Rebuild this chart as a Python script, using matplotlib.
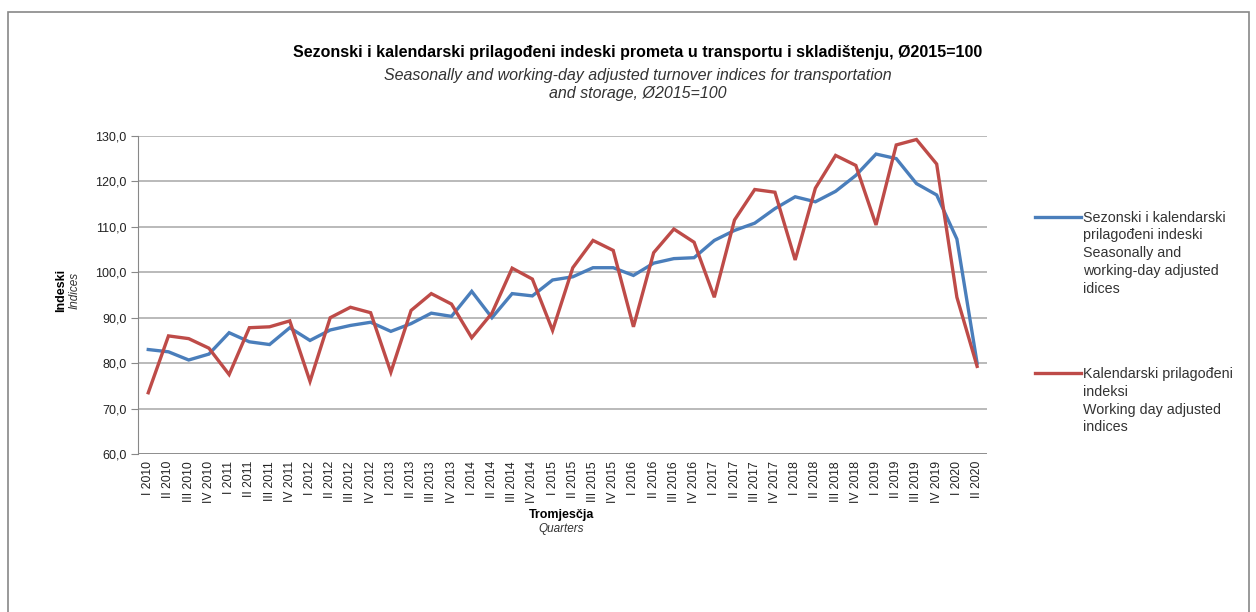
import matplotlib
matplotlib.use("Agg")
import matplotlib.pyplot as plt
from matplotlib.patches import Rectangle
from matplotlib.ticker import FuncFormatter

plt.rcParams['font.family'] = ['Liberation Sans', 'DejaVu Sans']

# quarters I 2010 .. II 2020
roman = ['I', 'II', 'III', 'IV']
quarters = [f"{roman[q]} {y}" for y in range(2010, 2021) for q in range(4)][:42]

# seasonally and working-day adjusted
sa_values = [83.0, 82.5, 80.7, 82.0, 86.7, 84.7, 84.1, 87.8, 85.0, 87.3,
             88.3, 89.0, 87.0, 88.7, 91.0, 90.3, 95.8, 90.0, 95.3, 94.8,
             98.3, 99.0, 101.0, 101.0, 99.3, 102.0, 103.0, 103.2, 107.0, 109.2,
             110.8, 114.0, 116.6, 115.5, 117.8, 121.3, 126.0, 125.0, 119.5, 117.0,
             107.3, 80.0]

# working-day adjusted
wd_values = [73.5, 86.0, 85.4, 83.3, 77.5, 87.8, 88.0, 89.3, 76.0, 90.0,
             92.3, 91.1, 78.0, 91.6, 95.3, 93.0, 85.6, 91.0, 100.9, 98.5,
             87.2, 101.0, 107.0, 104.8, 88.0, 104.3, 109.5, 106.6, 94.5, 111.5,
             118.2, 117.6, 102.7, 118.5, 125.7, 123.5, 110.4, 128.0, 129.2, 123.8,
             94.5, 79.3]

sa_label = "Sezonski i kalendarski\nprilagođeni indeski\nSeasonally and\nworking-day adjusted\nidices"
wd_label = "Kalendarski prilagođeni\nindeksi\nWorking day adjusted\nindices"

fig = plt.figure(figsize=(12.56, 6.12), dpi=100)
ax = fig.add_axes([0.110, 0.258, 0.676, 0.520])

x = list(range(len(quarters)))
ax.plot(x, sa_values, color='#4A7EBB', lw=2.4, solid_joinstyle='miter')
ax.plot(x, wd_values, color='#BE4B48', lw=2.4, solid_joinstyle='miter')

ax.set_xlim(-0.5, len(quarters) - 0.5)
ax.set_ylim(60, 130)
ax.set_yticks(range(60, 131, 10))
ax.yaxis.set_major_formatter(FuncFormatter(lambda v, p: f"{v:.1f}".replace('.', ',')))
ax.set_xticks(x)
ax.set_xticklabels(quarters, rotation=90, fontsize=8.7, color='#222222')
ax.tick_params(axis='x', length=0, pad=5)
ax.tick_params(axis='y', length=5, color='#888888', labelsize=9, labelcolor='#222222')

ax.grid(axis='y', color='#b4b4b4', lw=1.3)
ax.set_axisbelow(True)
for s in ['top', 'right', 'bottom']:
    ax.spines[s].set_visible(False)
ax.spines['left'].set_color('#888888')
ax.axhline(60, color='#888888', lw=1.2)

# titles
fig.text(0.508, 0.915, "Sezonski i kalendarski prilagođeni indeski prometa u transportu i skladištenju, Ø2015=100",
         ha='center', va='center', fontsize=11.5, fontweight='bold')
fig.text(0.508, 0.862, "Seasonally and working-day adjusted turnover indices for transportation\nand storage, Ø2015=100",
         ha='center', va='center', fontsize=11.5, style='italic', color='#333333', linespacing=1.25)

# axis labels
fig.text(0.049, 0.525, "Indeski", rotation=90, ha='center', va='center', fontsize=9, fontweight='bold')
fig.text(0.059, 0.525, "Indices", rotation=90, ha='center', va='center', fontsize=8.5, style='italic', color='#333333')
fig.text(0.447, 0.158, "Tromjesčja", ha='center', va='center', fontsize=9, fontweight='bold')
fig.text(0.447, 0.135, "Quarters", ha='center', va='center', fontsize=8.5, style='italic', color='#333333')

# legend drawn manually to keep the wide spacing
fig.lines.append(plt.Line2D([0.824, 0.861], [0.645, 0.645], transform=fig.transFigure,
                            color='#4A7EBB', lw=2.4))
fig.text(0.862, 0.656, sa_label, ha='left', va='top', fontsize=10.3, color='#333333',
         linespacing=1.36)
fig.lines.append(plt.Line2D([0.824, 0.861], [0.390, 0.390], transform=fig.transFigure,
                            color='#BE4B48', lw=2.4))
fig.text(0.862, 0.401, wd_label, ha='left', va='top', fontsize=10.3, color='#333333',
         linespacing=1.36)

# outer frame
fig.patches.append(Rectangle((0.0065, -0.1), 0.988, 1.08, transform=fig.transFigure,
                             fill=False, edgecolor='#888888', lw=1.2))

fig.savefig("out.png", dpi=100)
